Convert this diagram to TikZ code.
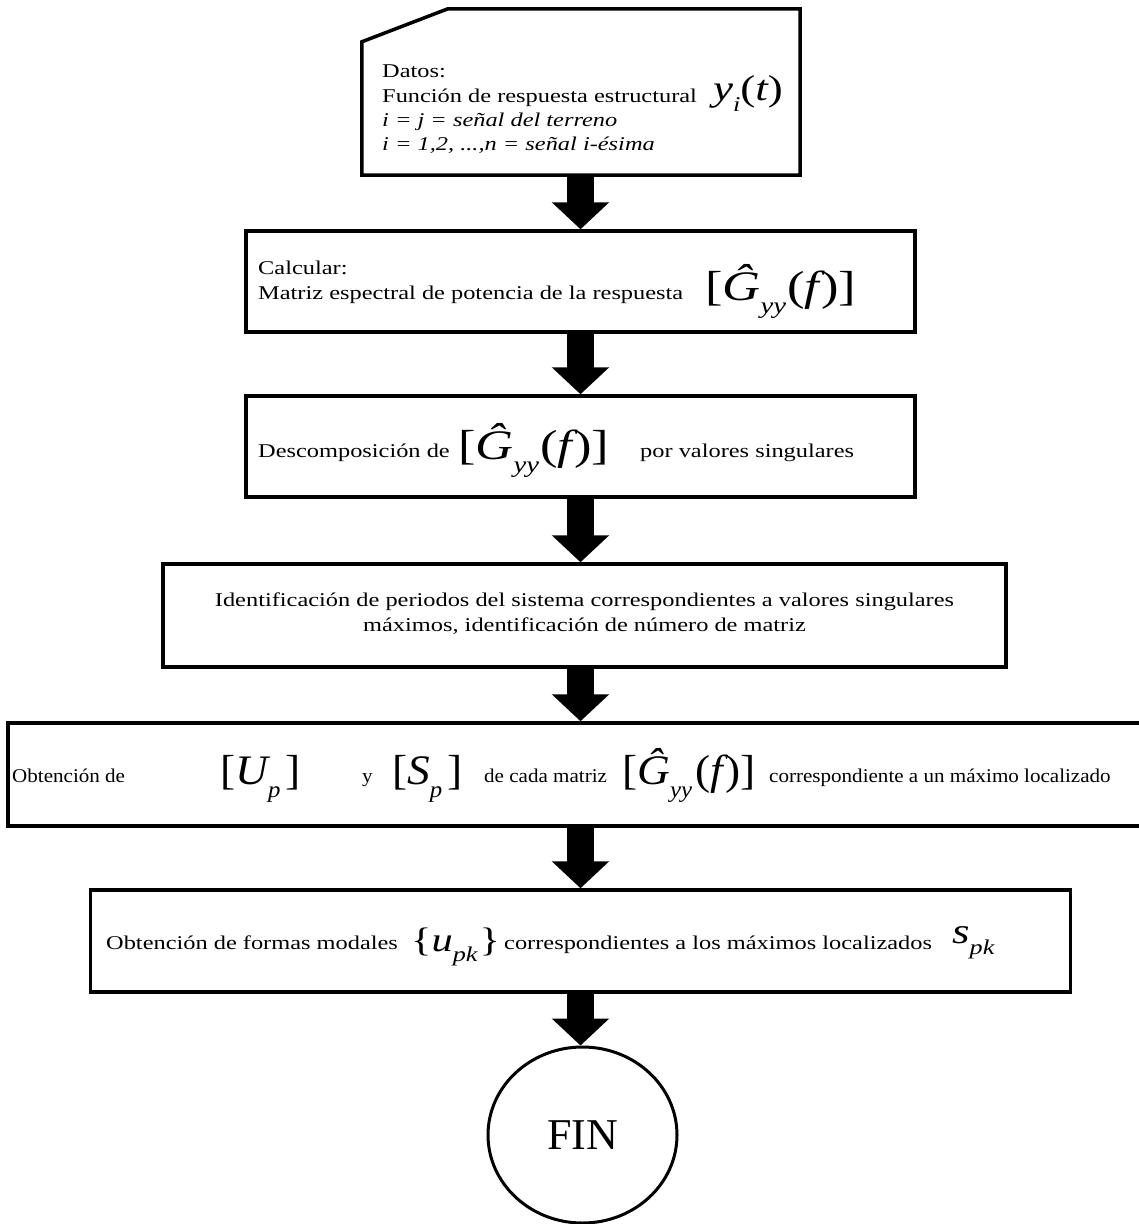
\documentclass[tikz,border=0pt]{standalone}
\usepackage{fontspec}
\setmainfont{Liberation Serif}[FakeStretch=1.25]
\newfontfamily\narrowfont{Liberation Serif}[FakeStretch=1.08]
\newfontfamily\plainfont{Liberation Serif}
\usetikzlibrary{arrows.meta,shapes.geometric}
\newcommand\subit[2]{\raisebox{-0.32em}{\fontsize{#1}{#1}\selectfont\itshape #2}}
\newcommand\Gyy{{\fontsize{42}{42}\selectfont[\itshape Ĝ\subit{23}{yy}\upshape\kern1pt(\itshape f\upshape\kern2pt)]}}
\tikzset{
  x=1pt,y=-1pt,
  box/.style={draw,line width=3.5pt,rectangle,inner sep=0pt},
  txt/.style={inner sep=0pt,font=\fontsize{19.5}{25}\selectfont},
  ntxt/.style={inner sep=0pt,font=\fontsize{19.5}{25}\narrowfont},
  blockarrow/.style={line width=27pt,-{Triangle[width=56pt,length=27pt]}},
}
\begin{document}
\begin{tikzpicture}
\useasboundingbox[fill=white] (0,0) rectangle (1139,1224);
\coordinate (ax) at (580.5,0);
% box 1 (card)
\node[rectangle,inner sep=0pt,minimum width=438pt,minimum height=166pt] (b1) at (581,92) {};
\draw[line width=3.5pt,line join=miter] (b1.south west) -- (b1.south east) -- (b1.north east) -- ([xshift=86pt]b1.north west) -- ([yshift=-33pt]b1.north west) -- cycle;
\node[txt,anchor=base west] (t1a) at (382,77) {Datos:};
\node[txt,anchor=base west] (t1b) at (382,102) {Función de respuesta estructural};
\node[txt,anchor=base west] (t1f) at (713,100) {\fontsize{36}{36}\selectfont\itshape y\subit{21}{i}\upshape(\itshape t\upshape)};
\node[txt,anchor=base west] (t1c) at (382,126) {\itshape i = j = señal del terreno};
\node[txt,anchor=base west] (t1d) at (382,150) {\itshape i = 1,2, ...,n = señal i-ésima};
% box 2
\node[box,minimum width=669pt,minimum height=101pt] (b2) at (580.5,281.5) {};
\node[txt,anchor=base west] (t2a) at (258,274) {Calcular:};
\node[txt,anchor=base west] (t2b) at (258,299) {Matriz espectral de potencia de la respuesta};
\node[txt,anchor=base west] (t2f) at (705,300) {\Gyy};
% box 3
\node[box,minimum width=669pt,minimum height=101pt] (b3) at (580.5,446.5) {};
\node[txt,anchor=base west] (t3a) at (258,457) {Descomposición de};
\node[txt,anchor=base west] (t3f) at (458,459) {\Gyy};
\node[txt,anchor=base west] (t3b) at (640,457) {por valores singulares};
% box 4
\node[box,minimum width=843pt,minimum height=103pt] (b4) at (584.5,615.5) {};
\node[txt,anchor=base] (t4a) at (584.5,606) {Identificación de periodos del sistema correspondientes a valores singulares};
\node[txt,anchor=base] (t4b) at (584.5,631) {máximos, identificación de número de matriz};
% box 5
\node[box,minimum width=1140pt,minimum height=103pt] (b5) at (578,774.5) {};
\node[ntxt,anchor=base west] (t5a) at (12,782) {Obtención de};
\node[ntxt,anchor=base west] (t5b) at (220,784) {\fontsize{42}{42}\selectfont[\itshape U\subit{23}{p}\upshape\kern5pt]};
\node[ntxt,anchor=base west] (t5c) at (362,782) {y};
\node[ntxt,anchor=base west] (t5d) at (392,784) {\fontsize{42}{42}\selectfont[\itshape S\subit{23}{p}\upshape\kern5pt]};
\node[ntxt,anchor=base west] (t5e) at (484,782) {de cada matriz};
\node[ntxt,anchor=base west] (t5f) at (622,784) {\fontsize{42}{42}\selectfont[\itshape Ĝ\subit{23}{yy}\upshape\kern3pt(\itshape f\upshape\kern3pt)]};
\node[ntxt,anchor=base west] (t5g) at (769,782) {correspondiente a un máximo localizado};
% box 6
\node[box,minimum width=980pt,minimum height=102pt] (b6) at (580.5,941) {};
\node[txt,anchor=base west] (t6a) at (106,949) {Obtención de formas modales};
\node[txt,anchor=base west] (t6f) at (411,951) {\fontsize{34}{34}\selectfont\{\itshape u\subit{21}{pk}\upshape\kern2pt\}};
\node[txt,anchor=base west] (t6b) at (504,949) {correspondientes a los máximos localizados};
\node[txt,anchor=base west] (t6g) at (952,943) {\fontsize{36}{36}\selectfont\itshape s\subit{21}{pk}};
% end
\node[draw,ellipse,line width=3pt,minimum width=189pt,minimum height=176pt,inner sep=0pt,font=\fontsize{44}{44}\plainfont] (fin) at (582.5,1135) {FIN};
% arrows
\draw[blockarrow] (b1.south -| ax) -- (b2.north -| ax);
\draw[blockarrow] (b2.south -| ax) -- (b3.north -| ax);
\draw[blockarrow] (b3.south -| ax) -- (b4.north -| ax);
\draw[blockarrow] (b4.south -| ax) -- (b5.north -| ax);
\draw[blockarrow] (b5.south -| ax) -- (b6.north -| ax);
\draw[blockarrow] (b6.south -| ax) -- (fin.north -| ax);
\end{tikzpicture}
\end{document}
